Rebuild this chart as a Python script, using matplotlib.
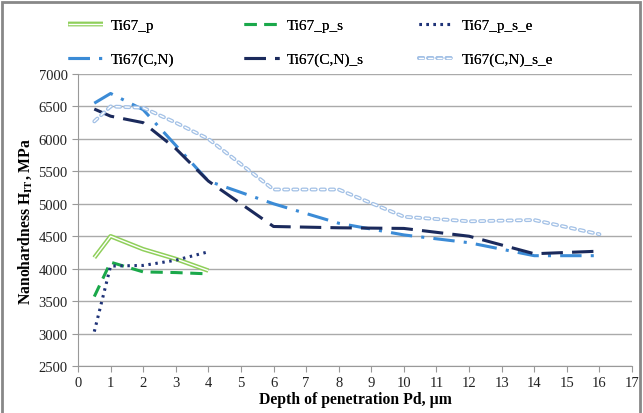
import matplotlib
matplotlib.use("Agg")
import matplotlib.pyplot as plt
import matplotlib.patheffects as pe
from matplotlib.patches import Rectangle

plt.rcParams['font.family'] = ['Liberation Serif', 'DejaVu Serif']
plt.rcParams['mathtext.fontset'] = 'stix'

x_p = [0.5, 1, 2, 3, 4]
ti67_p = [4170, 4500, 4300, 4150, 3970]
ti67_p_s = [3570, 4100, 3950, 3940, 3920]
ti67_p_s_e = [3030, 4040, 4050, 4130, 4260]

x_cn = [0.5, 1, 2, 3, 4, 6, 8, 10, 12, 14, 16]
ti67_cn = [6550, 6700, 6450, 5900, 5350, 5000, 4700, 4520, 4400, 4200, 4200]
ti67_cn_s = [6460, 6350, 6250, 5850, 5350, 4650, 4630, 4620, 4500, 4230, 4270]
ti67_cn_s_e = [6270, 6500, 6480, 6250, 6000, 5220, 5220, 4800, 4730, 4750, 4530]

xticks = list(range(0, 18))
yticks = list(range(2500, 7001, 500))

fig = plt.figure(figsize=(6.43, 4.14), dpi=100)
ax = fig.add_axes([78/643, 1-367/414, (632-78)/643, (367-75)/414])

h1, = ax.plot(x_p, ti67_p, color='white', lw=1.0, label='Ti67_p', solid_capstyle='butt',
              path_effects=[pe.Stroke(linewidth=3.2, foreground='#8fcf5a'), pe.Normal()])
h2, = ax.plot(x_p, ti67_p_s, color='#1aa84a', lw=2.2, ls=(0, (4, 2.5)), label='Ti67_p_s')
h3, = ax.plot(x_p, ti67_p_s_e, color='#1f3378', lw=2.2, ls=(0, (0.8, 1.5)), label='Ti67_p_s_e')
h4, = ax.plot(x_cn, ti67_cn, color='#3b8bd6', lw=2.2, ls=(0, (7, 3, 1, 3)), label='Ti67(C,N)')
h5, = ax.plot(x_cn, ti67_cn_s, color='#1b2a5c', lw=2.2, ls=(0, (7, 3)), label='Ti67(C,N)_s')
h6, = ax.plot(x_cn, ti67_cn_s_e, color='white', lw=1.0, ls=(0, (3.0, 3.6)), label='Ti67(C,N)_s_e',
              dash_capstyle='round',
              path_effects=[pe.Stroke(linewidth=2.8, foreground='#a3c1e6'), pe.Normal()])

ax.set_xlim(0, 17)
ax.set_ylim(2500, 7000)
ax.set_xticks(xticks)
ax.set_yticks(yticks)
ax.tick_params(labelsize=10.5, colors='#222222', length=4, direction='out')
ax.tick_params(axis='both', color='#999999')
ax.grid(axis='y', color='#aaaaaa', lw=1)
ax.set_axisbelow(True)
for s in ['top', 'right']:
    ax.spines[s].set_visible(False)
for s in ['left', 'bottom']:
    ax.spines[s].set_color('#999999')

ax.set_xlabel('Depth of penetration Pd, µm', fontsize=11.3, fontweight='bold', labelpad=1)
ax.set_ylabel(r'Nanohardness H$_{\mathbf{IT}}$, MPa', fontsize=11.3, fontweight='bold', labelpad=3)

columns = [(h1, h4), (h2, h5), (h3, h6)]
col_x = [54, 230, 405]
for (ha, hb), cx in zip(columns, col_x):
    leg = fig.legend(handles=[ha, hb], labels=[ha.get_label(), hb.get_label()],
                     loc='upper left', bbox_to_anchor=(cx/643, 1-6/414), ncol=1, frameon=False,
                     fontsize=11, handlelength=2.3, labelspacing=1.3, handletextpad=0.5)
    fig.add_artist(leg)

fig.patches.append(Rectangle((2/643, -0.01), 638/643, 1 - 3/414 + 0.01, transform=fig.transFigure,
                             fill=False, edgecolor='#888888', lw=2))

fig.savefig('out.png', dpi=100)
